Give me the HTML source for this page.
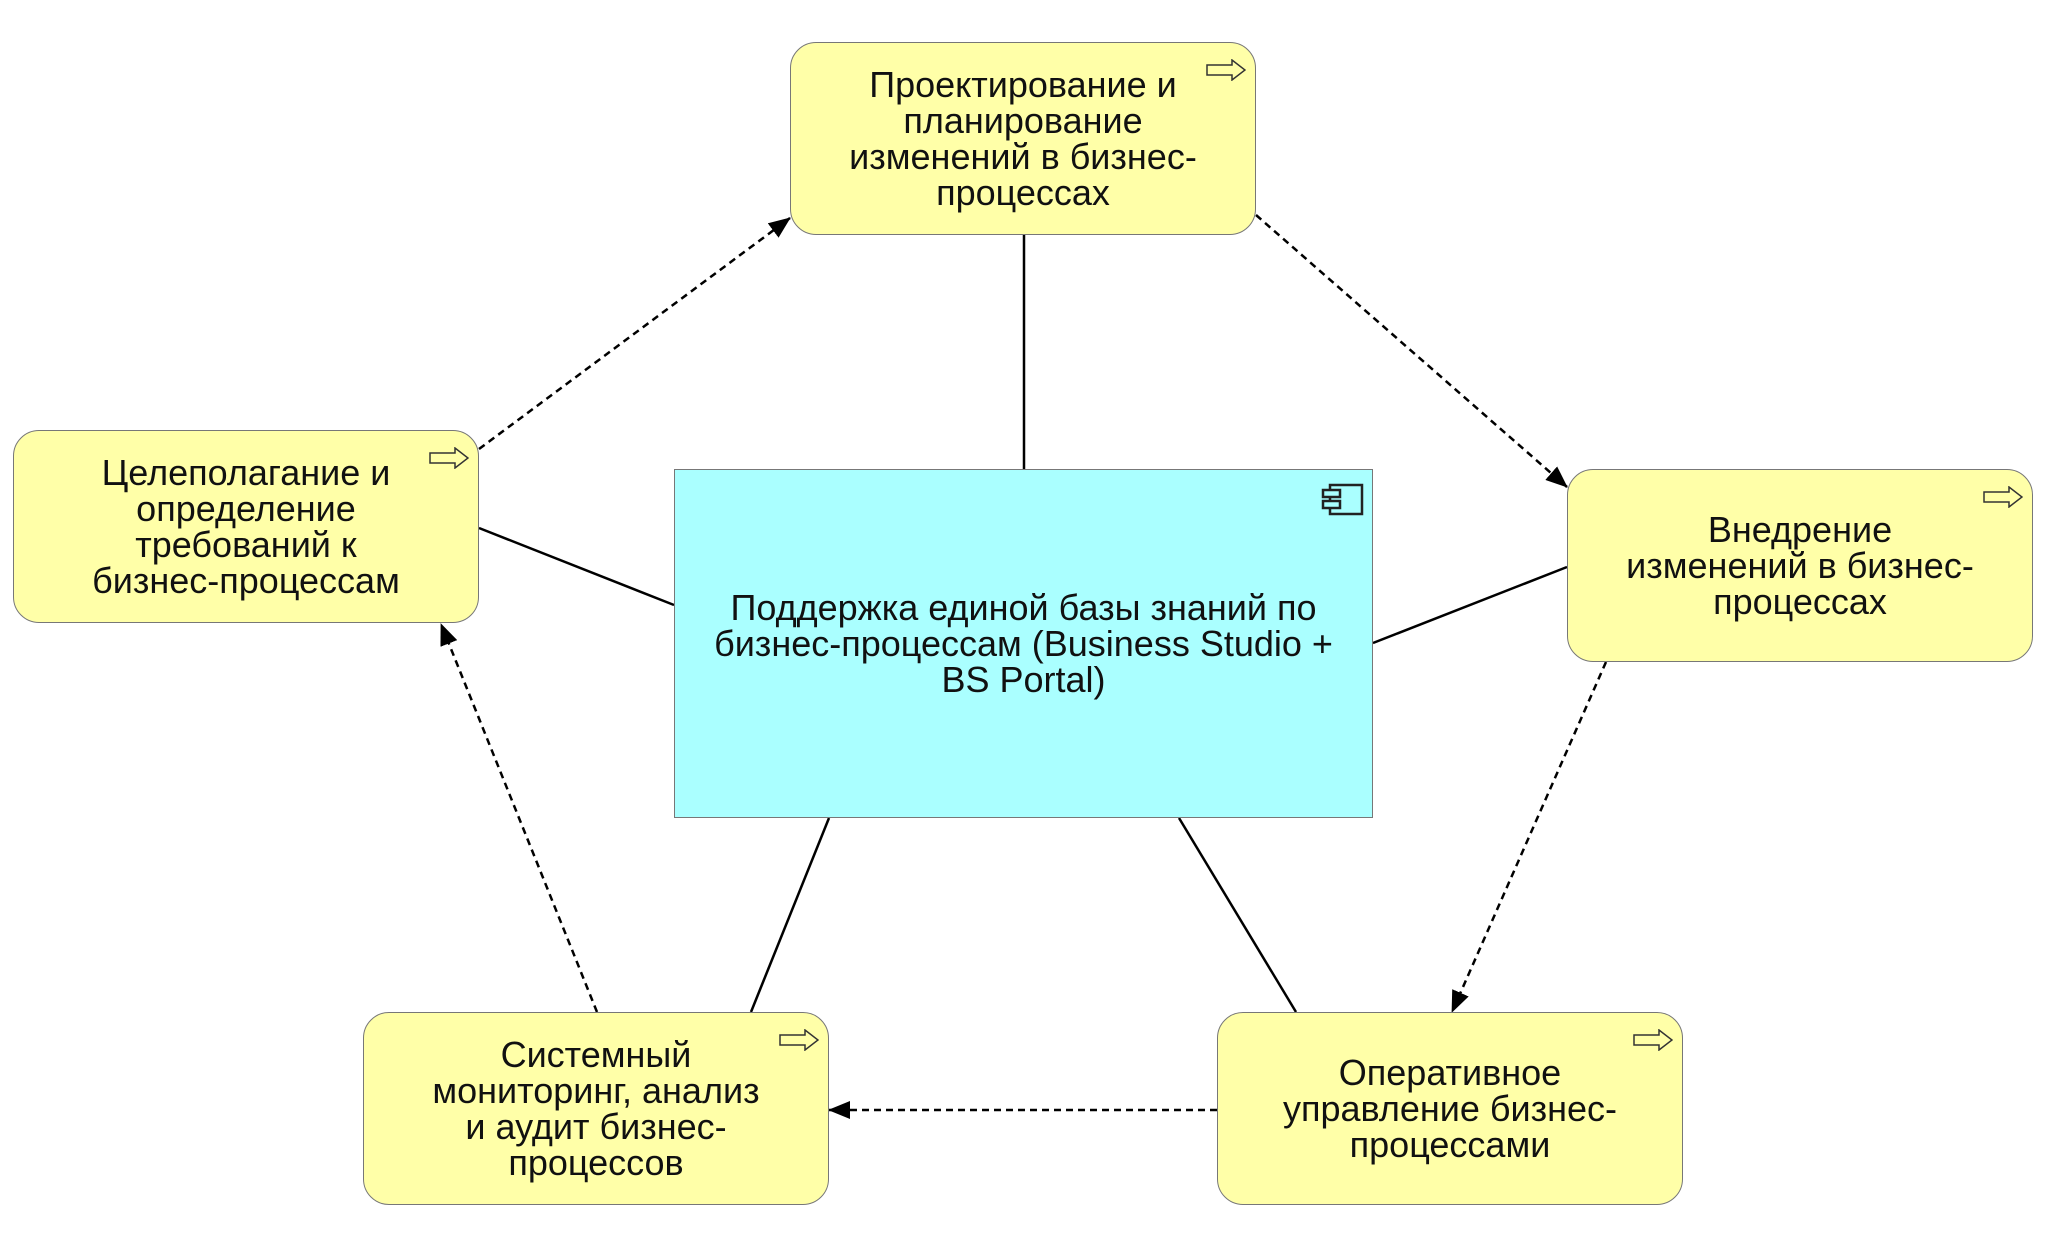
<!DOCTYPE html>
<html><head><meta charset="utf-8"><style>
body{margin:0;background:#fff;width:2048px;height:1249px;overflow:hidden;position:relative;font-family:"Liberation Sans","DejaVu Sans",sans-serif}
.b{position:absolute;background:#ffffa8;border:1.5px solid #777;border-radius:26px;box-sizing:border-box;display:flex;align-items:center;justify-content:center;text-align:center;font-size:36px;line-height:36px;color:#111}
.b svg{position:absolute;right:9px;top:16px}
.c{position:absolute;background:#aaffff;border:1.5px solid #777;box-sizing:border-box;display:flex;align-items:center;justify-content:center;text-align:center;font-size:36px;line-height:36px;color:#111}
</style></head><body>
<svg width="2048" height="1249" style="position:absolute;left:0;top:0">
<defs><marker id="m" markerWidth="22" markerHeight="18" refX="21" refY="9" orient="auto" markerUnits="userSpaceOnUse"><path d="M0,0L22,9L0,18z" fill="#000"/></marker></defs>
<g stroke="#000" stroke-width="2.5">
<line x1="1024" y1="235" x2="1024" y2="469"/>
<line x1="479" y1="528" x2="674" y2="605"/>
<line x1="1373" y1="643" x2="1567" y2="567"/>
<line x1="829" y1="818" x2="751" y2="1012"/>
<line x1="1179" y1="818" x2="1296" y2="1012"/>
</g>
<g stroke="#000" stroke-width="2.5" stroke-dasharray="7,5" marker-end="url(#m)">
<line x1="479" y1="449" x2="790" y2="218"/>
<line x1="1256" y1="215" x2="1567" y2="487"/>
<line x1="1606" y1="662" x2="1452" y2="1012"/>
<line x1="1217" y1="1110" x2="829" y2="1110"/>
<line x1="597" y1="1012" x2="441" y2="624"/>
</g>
</svg>
<div class="b" style="left:790px;top:42px;width:466px;height:193px"><svg width="40" height="22"><path d="M1,6H26V1L39,11L26,21V16H1Z" fill="#ffffa8" stroke="#333" stroke-width="1.5"/></svg>Проектирование и<br>планирование<br>изменений в бизнес-<br>процессах</div>
<div class="b" style="left:13px;top:430px;width:466px;height:193px"><svg width="40" height="22"><path d="M1,6H26V1L39,11L26,21V16H1Z" fill="#ffffa8" stroke="#333" stroke-width="1.5"/></svg>Целеполагание и<br>определение<br>требований к<br>бизнес-процессам</div>
<div class="b" style="left:1567px;top:469px;width:466px;height:193px"><svg width="40" height="22"><path d="M1,6H26V1L39,11L26,21V16H1Z" fill="#ffffa8" stroke="#333" stroke-width="1.5"/></svg>Внедрение<br>изменений в бизнес-<br>процессах</div>
<div class="b" style="left:363px;top:1012px;width:466px;height:193px"><svg width="40" height="22"><path d="M1,6H26V1L39,11L26,21V16H1Z" fill="#ffffa8" stroke="#333" stroke-width="1.5"/></svg>Системный<br>мониторинг, анализ<br>и аудит бизнес-<br>процессов</div>
<div class="b" style="left:1217px;top:1012px;width:466px;height:193px"><svg width="40" height="22"><path d="M1,6H26V1L39,11L26,21V16H1Z" fill="#ffffa8" stroke="#333" stroke-width="1.5"/></svg>Оперативное<br>управление бизнес-<br>процессами</div>
<div class="c" style="left:674px;top:469px;width:699px;height:349px">
<svg width="44" height="34" style="position:absolute;right:7px;top:13px"><rect x="9" y="2" width="32" height="29" fill="none" stroke="#222" stroke-width="2.5"/><rect x="2" y="7" width="17" height="7" fill="#aaffff" stroke="#222" stroke-width="2.5"/><rect x="2" y="18" width="17" height="7" fill="#aaffff" stroke="#222" stroke-width="2.5"/></svg>
Поддержка единой базы знаний по<br>бизнес-процессам (Business Studio +<br>BS Portal)</div>
</body></html>
